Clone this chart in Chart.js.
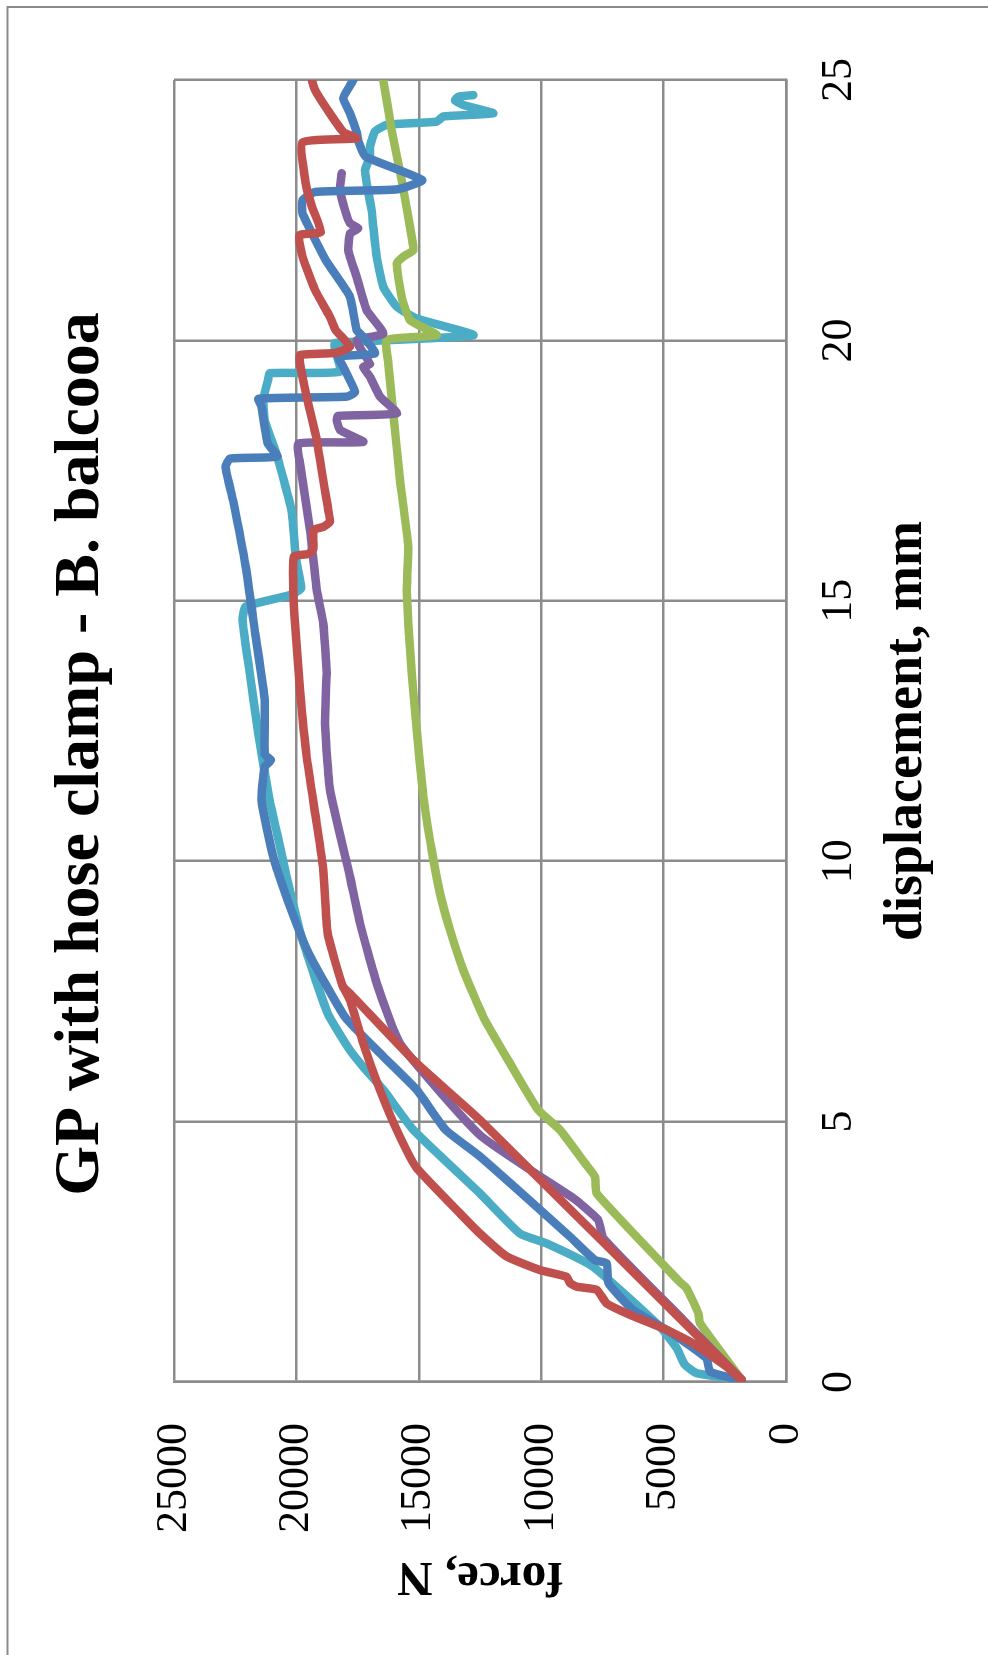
<!DOCTYPE html>
<html>
<head>
<meta charset="utf-8">
<title>GP with hose clamp - B. balcooa</title>
<script src="https://cdn.jsdelivr.net/npm/chart.js@4.4.0/dist/chart.umd.min.js"></script>
<style>
  html, body { margin: 0; padding: 0; background: #fff; overflow: hidden; }
  /* the chart is drawn upright, then turned a quarter turn to the left */
  #turn { position: absolute; left: 0; top: 0; width: 1655px; height: 988px;
          transform-origin: 0 0; transform: translateY(1655px) rotate(-90deg); }
</style>
</head>
<body>
<div id="turn"><canvas id="forceChart" width="1655" height="988"></canvas></div>
<script>
// displacement (mm) / force (N)
const dispRedLine = [0.04, 5.03, 6.12, 7.46, 7.59, 8.61, 9.83, 10.73, 12.01, 13.29, 14.57, 15.21, 15.85, 15.9, 16.0, 16.36, 16.42, 16.52, 16.74, 18.09, 18.92, 19.56, 19.72, 19.76, 19.88, 20.2, 20.45, 20.97, 21.61, 22.02, 22.08, 22.57, 23.01, 23.8, 23.88, 24.0, 24.42, 24.81, 25.0];
const forceRedLine = [1810, 12500, 15087, 17811, 18100, 18722, 18900, 19172, 19581, 19853, 20057, 20125, 20100, 19500, 19309, 19309, 18900, 18628, 18700, 19172, 19581, 19853, 19853, 18424, 17810, 18400, 18630, 19240, 19750, 19880, 19000, 19370, 19620, 19750, 17540, 18080, 18720, 19240, 19370];

const dispRedCurve = [0.04, 0.29, 0.74, 1.0, 1.29, 1.51, 1.77, 1.83, 1.9, 2.02, 2.15, 2.41, 2.85, 3.24, 4.13, 4.84, 5.61, 6.5, 7.33, 7.59];
const forceRedCurve = [1810, 2420, 3790, 4870, 6370, 7330, 7730, 8550, 8820, 8960, 10050, 11410, 12500, 13320, 15120, 15900, 16590, 17270, 17810, 18100];

const dispBlue = [0.04, 0.07, 0.2, 0.45, 0.74, 1.0, 1.38, 1.9, 2.28, 2.34, 2.79, 4.33, 4.84, 5.61, 6.25, 7.0, 8.23, 9.13, 10.02, 11.17, 11.81, 11.94, 12.05, 13.09, 14.37, 15.65, 16.93, 17.57, 17.73, 17.77, 18.02, 18.73, 18.88, 18.92, 19.01, 19.49, 19.69, 19.75, 20.07, 20.2, 20.84, 21.54, 22.44, 22.69, 22.85, 22.9, 23.08, 23.53, 23.78, 24.0, 24.36, 24.65, 24.9, 25.0];
const forceBlue = [1810, 2153, 3105, 3240, 4057, 4874, 6236, 7257, 7325, 7802, 8824, 12500, 13900, 15087, 16450, 18000, 19494, 20266, 20911, 21426, 21296, 21040, 21296, 21296, 21683, 22071, 22586, 22893, 22713, 20781, 21168, 21426, 21550, 17946, 17607, 18083, 18288, 16790, 17267, 17539, 17811, 18800, 19751, 19751, 19240, 15891, 14862, 17178, 17436, 17540, 17811, 18083, 17800, 17675];

const dispPurple = [0.04, 1.19, 2.76, 3.11, 3.43, 3.53, 4.74, 6.5, 7.66, 8.81, 9.7, 11.37, 12.65, 13.61, 14.57, 15.21, 16.36, 17.64, 18.02, 18.05, 18.28, 18.47, 18.55, 18.6, 18.92, 19.3, 19.49, 19.55, 20.0, 20.13, 20.58, 21.22, 21.73, 22.05, 22.15, 22.25, 22.5, 22.89, 23.21];
const forcePurple = [1810, 4195, 7461, 7666, 8415, 8687, 12500, 15768, 16722, 17402, 17811, 18628, 18832, 18764, 18900, 19172, 19445, 19853, 19921, 17267, 18220, 18356, 18300, 15904, 16586, 16994, 17267, 17000, 17539, 16450, 17130, 17539, 17879, 17811, 17471, 17811, 18015, 18220, 18151];

const dispGreen = [0.04, 1.13, 1.32, 1.8, 1.93, 3.62, 3.94, 4.2, 4.84, 5.22, 6.12, 7.01, 7.91, 8.68, 9.38, 10.21, 11.24, 12.52, 13.61, 14.57, 15.21, 16.04, 17.32, 18.6, 19.56, 20.01, 20.1, 20.39, 20.84, 21.48, 21.62, 21.73, 22.18, 23.08, 24.04, 25.0];
const forceGreen = [1810, 3513, 3582, 4057, 4359, 7733, 7802, 8211, 9232, 10118, 11275, 12365, 13182, 13726, 14134, 14473, 14814, 15087, 15291, 15428, 15495, 15430, 15768, 16041, 16245, 16311, 14270, 15360, 15700, 15904, 15600, 15224, 15360, 15700, 16108, 16450];

const dispCyan = [0.04, 0.17, 0.33, 0.65, 1.06, 2.21, 2.66, 2.85, 3.62, 4.84, 5.61, 6.05, 6.37, 7.08, 8.49, 9.7, 10.54, 11.17, 12.46, 13.73, 14.63, 14.89, 15.11, 15.24, 15.78, 16.74, 17.77, 18.47, 18.86, 19.24, 19.37, 19.4, 19.82, 19.95, 20.1, 20.42, 20.65, 21.03, 21.61, 22.18, 22.5, 23.02, 23.27, 23.53, 23.72, 24.01, 24.14, 24.2, 24.3, 24.36, 24.52, 24.61, 24.68, 24.71];
const forceCyan = [1810, 3648, 4126, 4465, 5147, 7872, 9776, 10866, 12500, 15224, 16450, 17267, 17810, 18722, 19751, 20397, 20792, 21100, 21557, 21940, 22198, 22071, 20266, 19805, 20009, 20200, 20781, 21296, 21350, 21160, 21080, 18220, 18424, 18424, 12774, 15087, 15904, 16450, 16722, 16858, 16926, 17130, 17198, 16994, 16994, 16790, 16311, 14270, 13998, 11955, 13182, 13522, 13386, 12774];

const dispTicks = [0, 5, 10, 15, 20, 25];
const forceTicks = [0, 5000, 10000, 15000, 20000, 25000];

const serif = '"Liberation Serif", "Times New Roman", serif';
const gridGrey = '#8c8c8c';

function pairs(xs, ys) {
  return xs.map((x, i) => ({ x: x, y: ys[i] }));
}

function curve(xs, ys, colour) {
  return {
    data: pairs(xs, ys),
    showLine: true,
    borderColor: colour,
    backgroundColor: colour,
    borderWidth: 8.5,
    borderCapStyle: 'round',
    borderJoinStyle: 'round',
    pointRadius: 0,
    tension: 0.15
  };
}

// chart title and the outer frame
const titleAndFrame = {
  id: 'titleAndFrame',
  afterDraw(chart) {
    const ctx = chart.ctx;
    ctx.save();
    ctx.strokeStyle = '#8a8a8a';
    ctx.lineWidth = 2;
    ctx.strokeRect(-10, 7.5, 1658, 1000);
    ctx.fillStyle = '#000';
    ctx.font = 'bold 64px ' + serif;
    ctx.textAlign = 'center';
    ctx.textBaseline = 'middle';
    ctx.fillText('GP with hose clamp - B. balcooa', 901, 81.5);
    ctx.restore();
  }
};

const ctx = document.getElementById('forceChart').getContext('2d');
new Chart(ctx, {
  type: 'scatter',
  data: {
    datasets: [
      curve(dispRedLine, forceRedLine, '#C0504D'),
      curve(dispRedCurve, forceRedCurve, '#C0504D'),
      curve(dispBlue, forceBlue, '#4A7EBB'),
      curve(dispPurple, forcePurple, '#8064A2'),
      curve(dispGreen, forceGreen, '#9BBB59'),
      curve(dispCyan, forceCyan, '#4BACC6')
    ]
  },
  options: {
    responsive: false,
    animation: false,
    devicePixelRatio: 1,
    layout: { padding: { top: 174, right: 80, bottom: 52, left: 0 } },
    plugins: { legend: { display: false }, tooltip: { enabled: false } },
    scales: {
      x: {
        type: 'linear',
        min: dispTicks[0],
        max: dispTicks[dispTicks.length - 1],
        afterBuildTicks(scale) { scale.ticks = dispTicks.map(v => ({ value: v })); },
        afterFit(scale) { scale.height = 150; },
        grid: { color: gridGrey, lineWidth: 2.5, drawTicks: false },
        border: { color: gridGrey, width: 2.5 },
        ticks: { color: '#000', padding: 27, font: { family: serif, size: 44, lineHeight: 1.2 } },
        title: {
          display: true, text: 'displacement, mm', color: '#000',
          padding: { top: 0, bottom: 2 },
          font: { family: serif, size: 54, weight: 'bold', lineHeight: 1 }
        }
      },
      y: {
        type: 'linear',
        min: forceTicks[0],
        max: forceTicks[forceTicks.length - 1],
        afterBuildTicks(scale) { scale.ticks = forceTicks.map(v => ({ value: v })); },
        afterFit(scale) { scale.width = 273; },
        grid: { color: gridGrey, lineWidth: 2.5, drawTicks: false },
        border: { color: gridGrey, width: 2.5 },
        ticks: { color: '#000', padding: 41, font: { family: serif, size: 44 }, callback: v => String(v) },
        title: {
          display: true, text: 'force, N', color: '#000',
          padding: { top: 54.5, bottom: 0 },
          font: { family: serif, size: 49, weight: 'bold', lineHeight: 1 }
        }
      }
    }
  },
  plugins: [titleAndFrame]
});
</script>
</body>
</html>
